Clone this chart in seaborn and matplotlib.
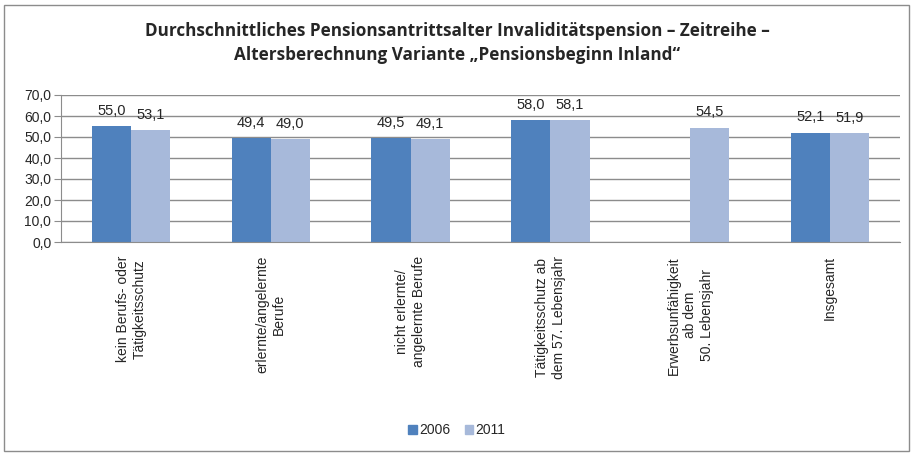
import numpy as np
import pandas as pd
import seaborn as sns
import matplotlib.pyplot as plt
from matplotlib.patches import Rectangle

categories = [
    "kein Berufs- oder\nTätigkeitsschutz",
    "erlernte/angelernte\nBerufe",
    "nicht erlernte/\nangelernte Berufe",
    "Tätigkeitsschutz ab\ndem 57. Lebensjahr",
    "Erwerbsunfähigkeit\nab dem\n50. Lebensjahr",
    "Insgesamt",
]
years = ["2006", "2011"]
values_2006 = [55.0, 49.4, 49.5, 58.0, np.nan, 52.1]
values_2011 = [53.1, 49.0, 49.1, 58.1, 54.5, 51.9]
y_ticks = [0, 10, 20, 30, 40, 50, 60, 70]
title = "Durchschnittliches Pensionsantrittsalter Invaliditätspension – Zeitreihe –\nAltersberechnung Variante „Pensionsbeginn Inland“"

df = pd.DataFrame({
    "Kategorie": categories * 2,
    "Jahr": [years[0]] * len(categories) + [years[1]] * len(categories),
    "Wert": values_2006 + values_2011,
})

sns.set_style("white")
plt.rcParams['font.family'] = ['Liberation Sans', 'DejaVu Sans']

fig = plt.figure(figsize=(9.14, 4.55), dpi=100)
ax = fig.add_axes([61 / 914, 1 - 242 / 455, (900 - 61) / 914, (242 - 95) / 455])

palette = {"2006": "#4F81BD", "2011": "#A7B9DA"}
sns.barplot(data=df, x="Kategorie", y="Wert", hue="Jahr", palette=palette,
            width=0.56, gap=0, saturation=1, linewidth=0, ax=ax, legend=False)

ax.set_ylim(0, 70)
ax.set_xlim(-0.5, len(categories) - 0.5)
ax.set_yticks(y_ticks)
ax.set_yticklabels([f"{v:.1f}".replace(".", ",") for v in y_ticks], fontsize=10)
ax.yaxis.grid(True, color="#8C8C8C", linewidth=1)
ax.set_axisbelow(True)
ax.set_xlabel("")
ax.set_ylabel("")
for s in ["top", "right"]:
    ax.spines[s].set_visible(False)
ax.spines["left"].set_color("#8C8C8C")
ax.spines["bottom"].set_color("#8C8C8C")

ax.set_xticks(range(len(categories)))
ax.set_xticklabels(categories, rotation=90, fontsize=10, ha="center", va="top",
                   multialignment="center", linespacing=1.25)
ax.tick_params(axis="x", length=0, pad=10)
ax.set_xticks(np.arange(-0.5, len(categories), 1), minor=True)
ax.tick_params(axis="x", which="minor", length=5, color="#8C8C8C", direction="out")
ax.tick_params(axis="y", length=5, color="#8C8C8C", direction="out", left=True, pad=2)

for cont in ax.containers:
    labels = ["" if np.isnan(v) else f"{v:.1f}".replace(".", ",") for v in cont.datavalues]
    ax.bar_label(cont, labels=labels, fontsize=10.5, padding=6)

handles = [Rectangle((0, 0), 1, 1, color=palette[y]) for y in years]
fig.legend(handles, years, loc="center", bbox_to_anchor=(0.5, 1 - 430 / 455), ncol=2,
           frameon=False, fontsize=10, handlelength=0.6, handleheight=0.6,
           handletextpad=0.2, columnspacing=1.0)

fig.text(0.5, 1 - 43 / 455, title, ha="center", va="center", fontsize=12.3,
         fontweight="bold", family=["Open Sans", "DejaVu Sans"], linespacing=1.45)

fig.patches.append(Rectangle((4 / 914, 4 / 455), 905 / 914, 446 / 455, fill=False,
                             edgecolor="#8C8C8C", linewidth=1, transform=fig.transFigure))

fig.savefig("out.png", dpi=100)
